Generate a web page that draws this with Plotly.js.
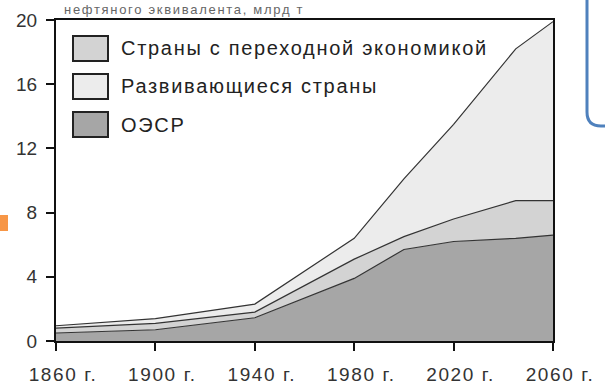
<!DOCTYPE html>
<html>
<head>
<meta charset="utf-8">
<script src="https://cdn.plot.ly/plotly-3.0.1.min.js"></script>
<style>
html,body{margin:0;padding:0;background:#fff;}
#chart{width:605px;height:389px;}
.annotation-text{letter-spacing:1.7px;}
.xtick text{letter-spacing:1.6px;}
</style>
</head>
<body>
<div id="chart"></div>
<script>
// Data (values in billion tonnes of oil equivalent, stacked)
const years = [1860, 1900, 1940, 1980, 2000, 2020, 2045, 2060];
const oecd = [0.5, 0.7, 1.45, 3.9, 5.7, 6.2, 6.4, 6.6];
const transition = [0.3, 0.4, 0.35, 1.2, 0.8, 1.4, 2.35, 2.15];
const developing = [0.15, 0.3, 0.5, 1.3, 3.6, 5.9, 9.45, 11.15];
const seriesNames = ["ОЭСР", "Страны с переходной экономикой", "Развивающиеся страны"];
const legendOrder = ["Страны с переходной экономикой", "Развивающиеся страны", "ОЭСР"];
const tickYears = [1860, 1900, 1940, 1980, 2020, 2060];
const tickLabels = ["1860 г.", "1900 г.", "1940 г.", "1980 г.", "2020 г.", "2060 г."];
const yTicks = [0, 4, 8, 12, 16, 20];
const titleText = "нефтяного эквивалента, млрд т";

const colors = {"ОЭСР": "#a6a6a6", "Страны с переходной экономикой": "#d3d3d3", "Развивающиеся страны": "#ececec"};
const seriesVals = [oecd, transition, developing];

const traces = seriesNames.map((n, i) => ({
  type: "scatter", mode: "lines", x: years, y: seriesVals[i], name: n,
  stackgroup: "one", fillcolor: colors[n],
  line: {color: "#333", width: 1.2}, hoverinfo: "skip"
}));

const F = "Liberation Sans, Arial, sans-serif";
const pl = 56, pr = 553, pt = 20, pb = 341;
const px = v => (v - pl) / (pr - pl);
const py = v => (pb - v) / (pb - pt);

const shapes = [];
const annotations = [];
const boxTops = [36, 74, 112];
legendOrder.forEach((n, i) => {
  shapes.push({type: "rect", xref: "paper", yref: "paper",
    x0: px(73), x1: px(108), y0: py(boxTops[i] + 25), y1: py(boxTops[i]),
    fillcolor: colors[n], line: {color: "#222", width: 2}});
  annotations.push({xref: "paper", yref: "paper", x: px(119), y: py(boxTops[i] + 12.5),
    xanchor: "left", yanchor: "middle", text: n, showarrow: false,
    font: {family: F, size: 20, color: "#222"}});
});
// title fragment at the top
annotations.push({xref: "paper", yref: "paper", x: px(62), y: py(0), xanchor: "left", yanchor: "top",
  text: titleText, showarrow: false, font: {family: F, size: 13, color: "#666"}});
// slide decorations
shapes.push({type: "rect", xref: "paper", yref: "paper", x0: px(0), x1: px(8), y0: py(231), y1: py(215),
  fillcolor: "#f79646", line: {width: 0}});
shapes.push({type: "path", xref: "paper", yref: "paper",
  path: `M ${px(587)} ${py(-5)} L ${px(587)} ${py(112)} Q ${px(587)} ${py(126)} ${px(601)} ${py(126)} L ${px(612)} ${py(126)}`,
  line: {color: "#4f81bd", width: 3}});

const layout = {
  width: 605, height: 389,
  margin: {l: pl, r: 605 - pr, t: pt, b: 389 - pb},
  paper_bgcolor: "#fff", plot_bgcolor: "#fff",
  showlegend: false,
  xaxis: {range: [1860, 2060], tickvals: tickYears, ticktext: tickLabels,
    showgrid: false, zeroline: false, showline: true, linecolor: "#111", linewidth: 2, mirror: true,
    ticks: "outside", ticklen: 8, tickwidth: 2, tickcolor: "#111",
    ticklabelstandoff: 7, ticklabelshift: 7,
    tickfont: {family: F, size: 19, color: "#333"}},
  yaxis: {range: [0, 20], tickvals: yTicks,
    showgrid: false, zeroline: false, showline: true, linecolor: "#111", linewidth: 2, mirror: true,
    ticks: "outside", ticklen: 8, tickwidth: 2, tickcolor: "#111",
    ticklabelstandoff: 5,
    tickfont: {family: F, size: 19, color: "#333"}},
  shapes: shapes, annotations: annotations
};

Plotly.newPlot("chart", traces, layout, {staticPlot: true, displayModeBar: false});
</script>
</body>
</html>
